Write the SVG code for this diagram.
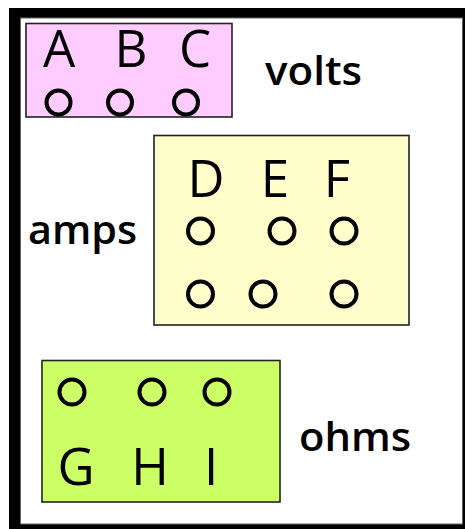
<svg xmlns="http://www.w3.org/2000/svg" width="465" height="529" viewBox="0 0 465 529">
<style>
.box{stroke:#222;stroke-width:1.6}
.port{fill:none;stroke:#000;stroke-width:4}
.big{font-family:"Open Sans","Liberation Sans",sans-serif;font-size:51px;fill:#000;text-anchor:middle}
.lbl{font-family:"Open Sans","Liberation Sans",sans-serif;font-size:39px;font-weight:600;fill:#000}
</style>
<g id="frame">
<rect x="9" y="8" width="470" height="530" fill="#000"/>
<rect x="20.5" y="18" width="442" height="506" fill="#fff" stroke="#666" stroke-width="1"/>
</g>
<g id="volts">
<rect class="box" x="26" y="23.5" width="206" height="93.5" fill="#FFCCFF"/>
<text class="big" x="59" y="67">A</text>
<text class="big" x="131" y="67">B</text>
<text class="big" x="195" y="67">C</text>
<circle class="port" cx="58.5" cy="102.5" r="12"/>
<circle class="port" cx="120" cy="102.5" r="12"/>
<circle class="port" cx="186" cy="102.5" r="12"/>
<text class="lbl" x="265" y="85" textLength="97" lengthAdjust="spacingAndGlyphs">volts</text>
</g>
<g id="amps">
<rect class="box" x="154" y="135.5" width="255" height="189.5" fill="#FFFFCC"/>
<text class="big" x="206" y="197">D</text>
<text class="big" x="275" y="197">E</text>
<text class="big" x="337" y="197">F</text>
<circle class="port" cx="200.5" cy="231" r="12.5"/>
<circle class="port" cx="282" cy="231" r="12.5"/>
<circle class="port" cx="344" cy="231" r="12.5"/>
<circle class="port" cx="200.5" cy="294" r="12.5"/>
<circle class="port" cx="263" cy="294" r="12.5"/>
<circle class="port" cx="344" cy="294" r="12.5"/>
<text class="lbl" x="28" y="244" textLength="109" lengthAdjust="spacingAndGlyphs">amps</text>
</g>
<g id="ohms">
<rect class="box" x="42" y="360.5" width="238" height="141.5" fill="#CCFF66"/>
<circle class="port" cx="72" cy="392" r="12.5"/>
<circle class="port" cx="152" cy="392" r="12.5"/>
<circle class="port" cx="217" cy="392" r="12.5"/>
<text class="big" x="76" y="485">G</text>
<text class="big" x="150" y="485">H</text>
<text class="big" x="211" y="485">I</text>
<text class="lbl" x="299" y="451" textLength="112" lengthAdjust="spacingAndGlyphs">ohms</text>
</g>
<g id="connectors"/>
</svg>
